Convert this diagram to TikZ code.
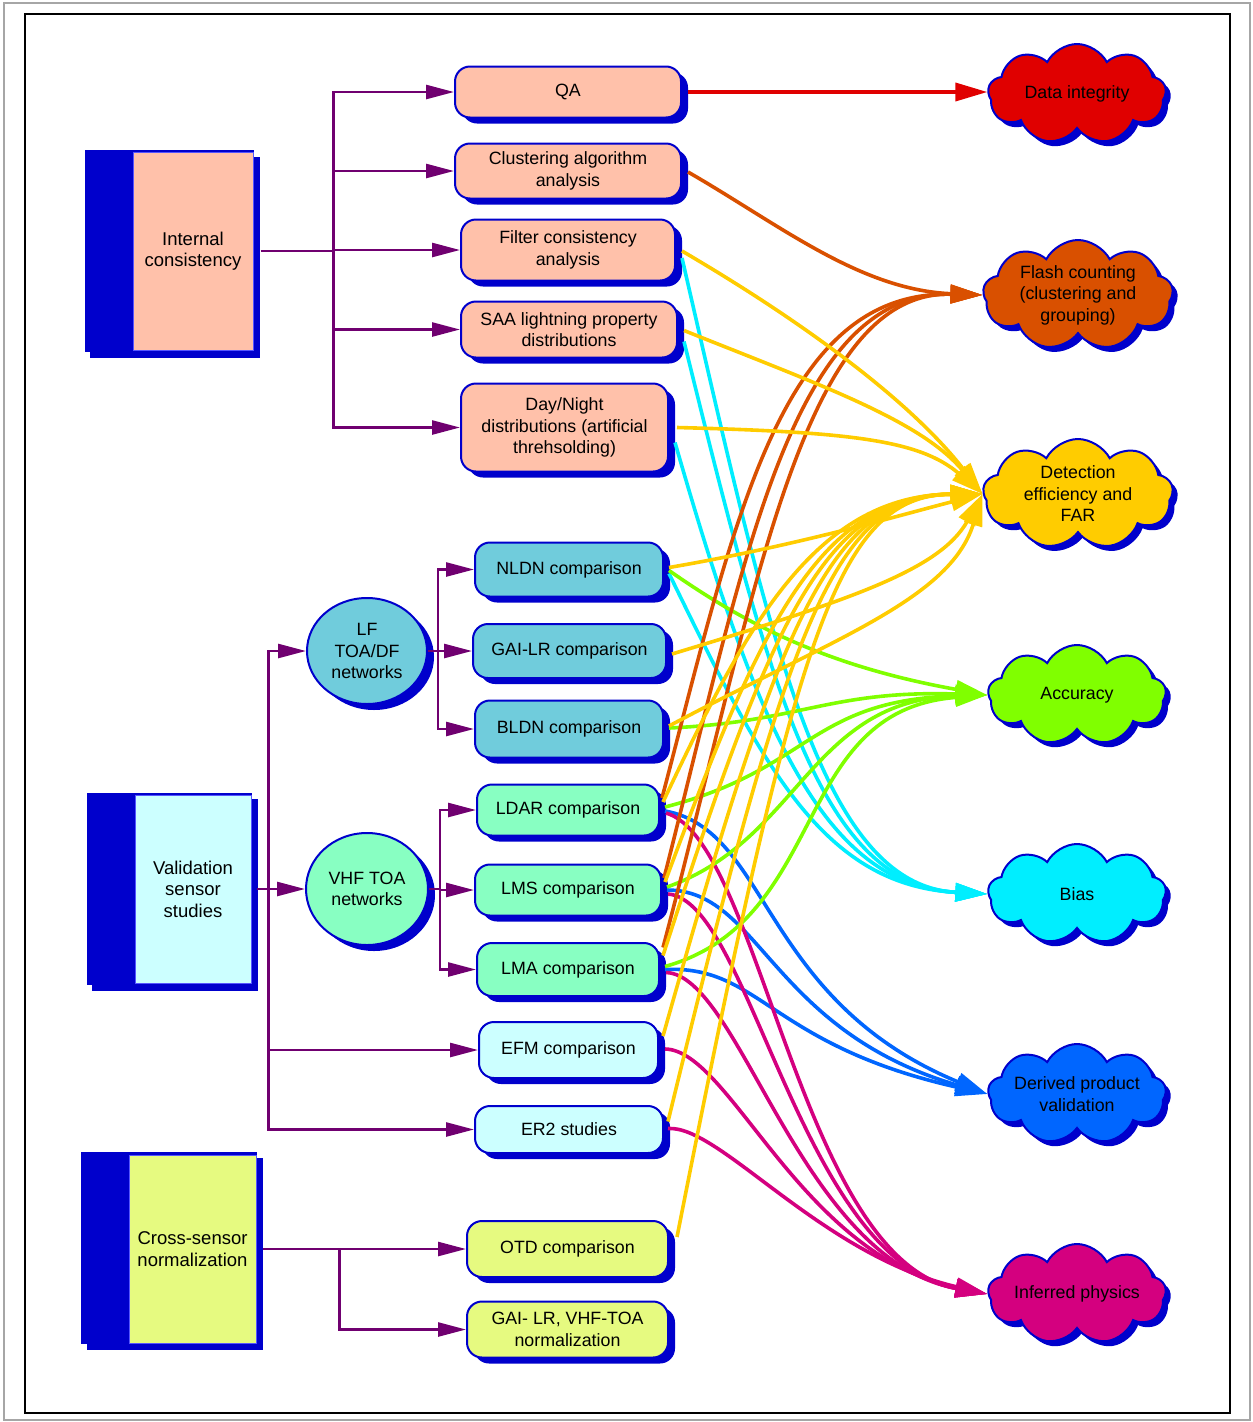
\documentclass[tikz,border=0pt]{standalone}
\usepackage{fontspec}
\setmainfont{Liberation Sans}
\usetikzlibrary{shapes.geometric,shapes.symbols,shadows,arrows.meta,calc}
\definecolor{boxblue}{HTML}{0000CC}
\definecolor{rimblue}{HTML}{5555FF}
\definecolor{peach}{HTML}{FFC1AA}
\definecolor{lfblue}{HTML}{70CCDC}
\definecolor{mint}{HTML}{88FFC2}
\definecolor{lcyan}{HTML}{CCFFFF}
\definecolor{lyellow}{HTML}{E6FA80}
\definecolor{purp}{HTML}{700070}
\definecolor{cred}{HTML}{E00000}
\definecolor{corange}{HTML}{D95000}
\definecolor{cyellow}{HTML}{FFCC00}
\definecolor{cgreen}{HTML}{80FF00}
\definecolor{ccyan}{HTML}{00EEFF}
\definecolor{cblue}{HTML}{0066FF}
\definecolor{cmag}{HTML}{D4007F}
\begin{document}
\begin{tikzpicture}[x=1pt,y=-1pt,
  every node/.style={font=\fontsize{17.8}{21.5}\selectfont, text=black},
  bshadow/.style={drop shadow={shadow xshift=7pt, shadow yshift=-6pt, fill=boxblue, opacity=1}},
  rbox/.style={rectangle, rounded corners=15pt, draw=boxblue, line width=2pt, inner sep=0pt, align=center, bshadow},
  circnode/.style={ellipse, draw=boxblue, line width=2pt, inner sep=0pt, align=center, bshadow},
  bookbox/.style={rectangle, draw=rimblue, line width=1pt, inner sep=0pt, align=center, font=\fontsize{18.5}{21.5}\selectfont},
  cloudnode/.style={cloud, cloud puffs=9, cloud puff arc=125, draw=boxblue, line width=2pt, inner sep=0pt,
     minimum width=178pt, minimum height=100pt,
     drop shadow={shadow xshift=5pt, shadow yshift=-5pt, fill=boxblue, opacity=1}},
  conn/.style={draw=purp, line width=2.6pt, -{Triangle[length=28pt,width=14pt]}},
  trunk/.style={draw=purp, line width=2.6pt},
  cl/.style={line width=3.6pt, -{Triangle[length=32pt,width=18pt]}}
]
\useasboundingbox (0,0) rectangle (1253,1422);
% frames
\draw[gray!70, line width=1.5pt] (4,3) rectangle (1250,1420);
\draw[black, line width=2pt] (25,14) rectangle (1230,1413);

% left group boxes (blue backing)
\fill[boxblue] (90,157) rectangle (260,358);
\fill[boxblue] (85,150) rectangle (254,352);
\node[bookbox, fill=peach, minimum width=120pt, minimum height=198pt] (ic) at (193,251) {Internal\\consistency};

\fill[boxblue] (92,799) rectangle (258,991);
\fill[boxblue] (87,793) rectangle (252,985);
\node[bookbox, fill=lcyan, minimum width=116pt, minimum height=188pt] (vs) at (193,889) {Validation\\sensor\\studies};

\fill[boxblue] (87,1158) rectangle (263,1350);
\fill[boxblue] (81,1152) rectangle (257,1344);
\node[bookbox, fill=lyellow, minimum width=127pt, minimum height=188pt] (cs) at (192.5,1249) {Cross-sensor\\normalization};

% middle boxes
\node[rbox, fill=peach, minimum width=226pt, minimum height=51pt] (qa) at (568,92) {QA};
\node[rbox, fill=peach, minimum width=226pt, minimum height=55pt] (cla) at (568,171) {Clustering algorithm\\analysis};
\node[rbox, fill=peach, minimum width=214pt, minimum height=61pt] (fi) at (568,250) {Filter consistency\\analysis};
\node[rbox, fill=peach, minimum width=216pt, minimum height=56pt] (saa) at (569,329.5) {SAA lightning property\\distributions};
\node[rbox, fill=peach, minimum width=207pt, minimum height=88pt] (dn) at (564.5,427.5) {Day/Night\\distributions (artificial\\threhsolding)};

\node[circnode, fill=lfblue, minimum width=120pt, minimum height=106pt] (lf) at (367,651) {LF\\TOA/DF\\networks};
\node[circnode, fill=mint, minimum width=122pt, minimum height=112pt] (vhf) at (367,889) {VHF TOA\\networks};

\node[rbox, fill=lfblue, minimum width=188pt, minimum height=54pt] (nldn) at (569,569.5) {NLDN comparison};
\node[rbox, fill=lfblue, minimum width=193pt, minimum height=54pt] (gai) at (569.5,651) {GAI-LR comparison};
\node[rbox, fill=lfblue, minimum width=188pt, minimum height=57pt] (bldn) at (569,729) {BLDN comparison};
\node[rbox, fill=mint, minimum width=182pt, minimum height=51pt] (ldar) at (568,810) {LDAR comparison};
\node[rbox, fill=mint, minimum width=186pt, minimum height=51pt] (lms) at (568,890) {LMS comparison};
\node[rbox, fill=mint, minimum width=182pt, minimum height=53pt] (lma) at (568,969.5) {LMA comparison};
\node[rbox, fill=lcyan, minimum width=179pt, minimum height=56pt] (efm) at (568.5,1050) {EFM comparison};
\node[rbox, fill=lcyan, minimum width=188pt, minimum height=47pt] (er2) at (569,1129.5) {ER2 studies};
\node[rbox, fill=lyellow, minimum width=201pt, minimum height=56pt] (otd) at (567.5,1249) {OTD comparison};
\node[rbox, fill=lyellow, minimum width=201pt, minimum height=56pt] (gn) at (567.5,1329.5) {GAI- LR, VHF-TOA\\normalization};

% clouds
\node[cloudnode, fill=cred, label={center:Data integrity}] (di) at (1077,94) {};
\node[cloudnode, fill=corange, minimum width=190pt, minimum height=110pt, label={[align=center]center:{Flash counting\\(clustering and\\grouping)}}] (fc) at (1078,295) {};
\node[cloudnode, fill=cyellow, minimum width=190pt, minimum height=110pt, label={[align=center]center:{Detection\\efficiency and\\FAR}}] (de) at (1078,494) {};
\node[cloudnode, fill=cgreen, label={center:Accuracy}] (ac) at (1077,695) {};
\node[cloudnode, fill=ccyan, label={center:Bias}] (bi) at (1077,894) {};
\node[cloudnode, fill=cblue, label={[align=center]center:{Derived product\\validation}}] (dp) at (1077,1094) {};
\node[cloudnode, fill=cmag, label={center:Inferred physics}] (ip) at (1077,1294) {};

% purple tree connectors
\coordinate (icbus) at ($(ic.east)+(80,0)$);
\draw[trunk] ([xshift=7pt]ic.east) -- (icbus);
\draw[conn] (icbus) |- (qa.west);
\draw[conn] (icbus) |- (cla.west);
\draw[conn] (icbus) |- (fi.west);
\draw[conn] (icbus) |- (saa.west);
\draw[conn] (icbus) |- (dn.west);

\coordinate (vsbus) at ($(vs.east)+(17,0)$);
\draw[trunk] ([xshift=5pt]vs.east) -- (vsbus);
\draw[conn] (vsbus) |- (lf.west);
\draw[conn] (vsbus) |- (vhf.west);
\draw[conn] (vsbus) |- (efm.west);
\draw[conn] (vsbus) |- (er2.west);

\coordinate (lfbus) at ($(lf.east)+(10,0)$);
\draw[trunk] (lf.east) -- (lfbus);
\draw[conn] (lfbus) |- (nldn.west);
\draw[conn] (lfbus) |- (gai.west);
\draw[conn] (lfbus) |- (bldn.west);

\coordinate (vhfbus) at ($(vhf.east)+(11,0)$);
\draw[trunk] (vhf.east) -- (vhfbus);
\draw[conn] (vhfbus) |- (ldar.west);
\draw[conn] (vhfbus) |- (lms.west);
\draw[conn] (vhfbus) |- (lma.west);

\coordinate (csbus) at ($(cs.east)+(83,0)$);
\draw[conn] ([xshift=6pt]cs.east) -- (otd.west);
\draw[conn] (csbus) |- (gn.west);

% red
\draw[cl, cred] ($(qa.east)+(6,0)$) -- (qa.east -| di.west);

% cyan -> Bias
\draw[cl, ccyan] ($(fi.east)+(6,8)$) .. controls (770,640) and (820,885) .. (bi.west);
\draw[cl, ccyan] ($(saa.east)+(6,12)$) .. controls (770,690) and (820,885) .. (bi.west);
\draw[cl, ccyan] ($(dn.east)+(6,15)$) .. controls (755,720) and (820,885) .. (bi.west);
\draw[cl, ccyan] ($(nldn.east)+(5,4)$) .. controls (760,760) and (820,885) .. (bi.west);

% blue -> Derived product validation
\draw[cl, cblue] ($(ldar.east)+(5,1)$) .. controls (770,830) and (760,1000) .. (dp.west);
\draw[cl, cblue] ($(lms.east)+(5,0)$) .. controls (760,890) and (770,1030) .. (dp.west);
\draw[cl, cblue] ($(lma.east)+(5,0)$) .. controls (760,965) and (770,1045) .. (dp.west);

% magenta -> Inferred physics
\draw[cl, cmag] ($(ldar.east)+(6,3)$) .. controls (760,840) and (800,1260) .. (ip.west);
\draw[cl, cmag] ($(lms.east)+(6,4)$) .. controls (750,900) and (800,1260) .. (ip.west);
\draw[cl, cmag] ($(lma.east)+(6,3)$) .. controls (740,975) and (800,1260) .. (ip.west);
\draw[cl, cmag] ($(efm.east)+(6,-1)$) .. controls (730,1050) and (800,1255) .. (ip.west);
\draw[cl, cmag] ($(er2.east)+(4,-1)$) .. controls (720,1125) and (820,1255) .. (ip.west);

% green -> Accuracy
\draw[cl, cgreen] ($(nldn.east)+(5,1)$) .. controls (740,620) and (820,665) .. (ac.west);
\draw[cl, cgreen] ($(bldn.east)+(5,-1)$) .. controls (800,722) and (830,690) .. (ac.west);
\draw[cl, cgreen] ($(ldar.east)+(5,-3)$) .. controls (810,770) and (810,700) .. (ac.west);
\draw[cl, cgreen] ($(lms.east)+(5,-3)$) .. controls (800,840) and (810,700) .. (ac.west);
\draw[cl, cgreen] ($(lma.east)+(5,-3)$) .. controls (830,920) and (790,710) .. (ac.west);

% orange -> Flash counting
\draw[cl, corange] ($(cla.east)+(6,1)$) .. controls (780,225) and (860,290) .. (fc.west);
\draw[cl, corange] ($(ldar.east)+(2,-12)$) .. controls (735,520) and (780,290) .. (fc.west);
\draw[cl, corange] ($(lms.east)+(2,-12)$) .. controls (745,560) and (790,290) .. (fc.west);
\draw[cl, corange] ($(lma.east)+(3,-22)$) .. controls (755,600) and (800,290) .. (fc.west);

% yellow -> Detection efficiency
\draw[cl, cyellow] ($(fi.east)+(6,1)$) .. controls (800,320) and (910,400) .. (de.west);
\draw[cl, cyellow] ($(saa.east)+(6,1)$) .. controls (820,385) and (920,420) .. (de.west);
\draw[cl, cyellow] ($(dn.east)+(8,0)$) .. controls (850,432) and (920,440) .. (de.west);
\draw[cl, cyellow] ($(nldn.east)+(5,-2)$) .. controls (800,545) and (900,515) .. (de.west);
\draw[cl, cyellow] ($(gai.east)+(5,3)$) .. controls (850,600) and (940,570) .. (de.west);
\draw[cl, cyellow] ($(bldn.east)+(5,-3)$) .. controls (830,640) and (950,600) .. (de.west);
\draw[cl, cyellow] ($(ldar.east)+(3,-8)$) .. controls (740,640) and (810,495) .. (de.west);
\draw[cl, cyellow] ($(lms.east)+(3,-8)$) .. controls (755,640) and (815,495) .. (de.west);
\draw[cl, cyellow] ($(lma.east)+(3,-14)$) .. controls (765,640) and (820,495) .. (de.west);
\draw[cl, cyellow] ($(efm.east)+(4,-14)$) .. controls (775,640) and (825,495) .. (de.west);
\draw[cl, cyellow] ($(er2.east)+(4,-8)$) .. controls (785,640) and (830,495) .. (de.west);
\draw[cl, cyellow] ($(otd.east)+(8,-12)$) .. controls (795,640) and (835,495) .. (de.west);
\end{tikzpicture}
\end{document}
